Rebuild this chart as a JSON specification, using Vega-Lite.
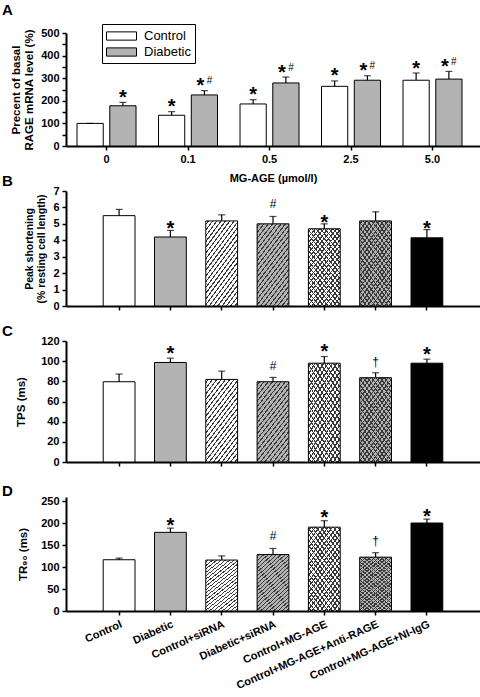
{
  "$schema": "https://vega.github.io/schema/vega-lite/v6.json",
  "padding": {"left": 2, "top": 2, "right": 0, "bottom": 0},
  "background": "white",
  "config": {
    "font": "Liberation Sans",
    "view": {"stroke": null},
    "axis": {
      "domainColor": "black", "domainWidth": 2, "tickColor": "black", "tickWidth": 1.5, "tickSize": 4,
      "labelFont": "Liberation Sans", "labelFontWeight": "bold", "labelFontSize": 11, "labelColor": "black",
      "titleFont": "Liberation Sans", "titleFontWeight": "bold", "titleFontSize": 11.5, "titleColor": "black",
      "grid": false, "labelPadding": 3, "labelOverlap": false
    },
    "title": {"font": "Liberation Sans", "fontSize": 15, "fontWeight": "bold", "color": "black", "anchor": "start", "frame": "group"}
  },
  "datasets": {
    "a": [
      {"dose": "0", "group": "Control", "value": 100, "hi": 100, "star": "", "hash": ""},
      {"dose": "0", "group": "Diabetic", "value": 178, "hi": 193, "star": "*", "hash": ""},
      {"dose": "0.1", "group": "Control", "value": 136, "hi": 152, "star": "*", "hash": ""},
      {"dose": "0.1", "group": "Diabetic", "value": 226, "hi": 245, "star": "*", "hash": "#"},
      {"dose": "0.5", "group": "Control", "value": 186, "hi": 205, "star": "*", "hash": ""},
      {"dose": "0.5", "group": "Diabetic", "value": 279, "hi": 305, "star": "*", "hash": "#"},
      {"dose": "2.5", "group": "Control", "value": 264, "hi": 288, "star": "*", "hash": ""},
      {"dose": "2.5", "group": "Diabetic", "value": 291, "hi": 311, "star": "*", "hash": "#"},
      {"dose": "5.0", "group": "Control", "value": 291, "hi": 323, "star": "*", "hash": ""},
      {"dose": "5.0", "group": "Diabetic", "value": 296, "hi": 330, "star": "*", "hash": "#"}
    ],
    "bcd": [
      {"cond": "Control", "ps": 5.5, "ps_hi": 5.88, "ps_note": "", "tps": 79.6, "tps_hi": 87.2, "tps_note": "", "tr": 116.9, "tr_hi": 120.6, "tr_note": ""},
      {"cond": "Diabetic", "ps": 4.2, "ps_hi": 4.6, "ps_note": "*", "tps": 98.7, "tps_hi": 103, "tps_note": "*", "tr": 179.4, "tr_hi": 189, "tr_note": "*"},
      {"cond": "Control+siRNA", "ps": 5.18, "ps_hi": 5.55, "ps_note": "", "tps": 81.9, "tps_hi": 90.1, "tps_note": "", "tr": 116.2, "tr_hi": 125.7, "tr_note": ""},
      {"cond": "Diabetic+siRNA", "ps": 5.0, "ps_hi": 5.45, "ps_note": "#", "tps": 79.6, "tps_hi": 83.9, "tps_note": "#", "tr": 128.7, "tr_hi": 142.6, "tr_note": "#"},
      {"cond": "Control+MG-AGE", "ps": 4.7, "ps_hi": 5.0, "ps_note": "*", "tps": 98, "tps_hi": 104.6, "tps_note": "*", "tr": 191.2, "tr_hi": 205.9, "tr_note": "*"},
      {"cond": "Control+MG-AGE+Anti-RAGE", "ps": 5.18, "ps_hi": 5.73, "ps_note": "", "tps": 83.6, "tps_hi": 88.5, "tps_note": "†", "tr": 122.8, "tr_hi": 133, "tr_note": "†"},
      {"cond": "Control+MG-AGE+NI-IgG", "ps": 4.15, "ps_hi": 4.65, "ps_note": "*", "tps": 98, "tps_hi": 102, "tps_note": "*", "tr": 200.7, "tr_hi": 209.6, "tr_note": "*"}
    ]
  },
  "resolve": {"scale": {"fill": "independent", "color": "independent"}, "legend": {"fill": "independent", "color": "independent"}},
  "bounds": "flush",
  "spacing": 45,
  "vconcat": [
    {
      "width": 414, "height": 113,
      "title": {"text": "A", "dx": -64, "offset": 6},
      "data": {"name": "a"},
      "resolve": {"axis": {"y": "independent"}},
      "encoding": {
        "x": {"field": "dose", "type": "nominal", "sort": ["0", "0.1", "0.5", "2.5", "5.0"],
              "scale": {"paddingInner": 0.276, "paddingOuter": 0.178, "align": 0.38},
              "axis": {"labelAngle": 0, "labelOverlap": false, "title": "MG-AGE (µmol/l)", "titleFontSize": 11, "titlePadding": 8, "labelFontSize": 11}},
        "xOffset": {"field": "group", "type": "nominal", "sort": ["Control", "Diabetic"], "scale": {"paddingInner": 0.2, "paddingOuter": 0}}
      },
      "layer": [
        {
          "mark": {"type": "bar", "stroke": "black", "strokeWidth": 1},
          "encoding": {
            "y": {"field": "value", "type": "quantitative", "scale": {"domain": [0, 500]},
                  "axis": {"values": [0, 50, 100, 150, 200, 250, 300, 350, 400, 450, 500], "labelOverlap": false,
                           "labelExpr": "datum.value % 100 === 0 ? datum.label : ''",
                           "title": ["Precent of basal", "RAGE mRNA level (%)"], "titlePadding": 6}},
            "fill": {"field": "group", "type": "nominal",
                     "scale": {"domain": ["Control", "Diabetic"], "range": ["#ffffff", "#b3b3b3"]},
                     "legend": {"orient": "none", "legendX": 36, "legendY": -9, "title": null,
                                "symbolType": "M-2,-0.55H2V0.55H-2Z", "symbolSize": 225, "symbolOffset": 7.5,
                                "symbolStrokeColor": "black", "symbolStrokeWidth": 1, "labelOffset": 14.5,
                                "labelFont": "Liberation Sans", "labelFontSize": 13, "labelColor": "black",
                                "padding": 4, "rowPadding": 1, "strokeColor": "black", "fillColor": "white"}}
          }
        },
        {
          "mark": {"type": "rule", "color": "black", "strokeWidth": 1.2},
          "encoding": {"y": {"field": "value", "type": "quantitative", "axis": null}, "y2": {"field": "hi"}}
        },
        {
          "mark": {"type": "tick", "color": "black", "thickness": 1.2, "size": 7},
          "encoding": {"y": {"field": "hi", "type": "quantitative", "axis": null}}
        },
        {
          "transform": [{"filter": "datum.star === '*' && datum.hash === ''"}],
          "mark": {"type": "text", "fontSize": 20, "fontWeight": "bold", "baseline": "alphabetic", "dy": 1.5, "color": "black"},
          "encoding": {"y": {"field": "hi", "type": "quantitative", "axis": null}, "text": {"field": "star"}}
        },
        {
          "transform": [{"filter": "datum.star === '*' && datum.hash === '#'"}],
          "mark": {"type": "text", "fontSize": 20, "fontWeight": "bold", "baseline": "alphabetic", "dy": 1.5, "dx": -4, "color": "black"},
          "encoding": {"y": {"field": "hi", "type": "quantitative", "axis": null}, "text": {"field": "star"}}
        },
        {
          "transform": [{"filter": "datum.hash === '#'"}],
          "mark": {"type": "text", "fontSize": 10, "baseline": "alphabetic", "dy": -6.5, "dx": 5, "color": "black"},
          "encoding": {"y": {"field": "hi", "type": "quantitative", "axis": null}, "text": {"field": "hash"}}
        }
      ]
    },
    {
      "bounds": "flush",
      "spacing": 35,
      "vconcat": [
        {
          "width": 414, "height": 115,
          "title": {"text": "B", "dx": -64, "offset": 0, "dy": 4},
          "data": {"name": "bcd"},
          "resolve": {"axis": {"y": "independent"}},
          "encoding": {
            "x": {"field": "cond", "type": "nominal", "sort": null,
                  "scale": {"paddingInner": 0.38, "paddingOuter": 0.725},
                  "axis": {"labels": false, "title": null}}
          },
          "layer": [
            {
              "mark": {"type": "bar"},
              "encoding": {
                "y": {"field": "ps", "type": "quantitative", "scale": {"domain": [0, 7]},
                      "axis": {"values": [0, 1, 2, 3, 4, 5, 6, 7], "labelOverlap": false, "title": ["Peak shortening", "(% resting cell length)"], "titleFontSize": 10.5, "titlePadding": 6}},
                "color": {"field": "cond", "type": "nominal", "sort": null,
                          "scale": {"domain": ["Control", "Diabetic", "Control+siRNA", "Diabetic+siRNA", "Control+MG-AGE", "Control+MG-AGE+Anti-RAGE", "Control+MG-AGE+NI-IgG"],
                                    "range": ["#ffffff", "#b3b3b3", "#ffffff", "#b3b3b3", "#ffffff", "#b3b3b3", "#000000"]},
                          "legend": null}
              }
            },
            {
              "transform": [{"filter": "indexof(['Control+siRNA','Diabetic+siRNA','Control+MG-AGE','Control+MG-AGE+Anti-RAGE'], datum.cond) >= 0"}],
              "mark": {"type": "bar", "fill": {"gradient": "linear", "x1": 0, "y1": 0, "x2": 0.6, "y2": 1.2, "stops": [{"offset":0,"color":"rgba(0,0,0,0)"},{"offset":0.02,"color":"rgba(0,0,0,0)"},{"offset":0.02,"color":"#3a3a3a"},{"offset":0.034,"color":"#3a3a3a"},{"offset":0.034,"color":"rgba(0,0,0,0)"},{"offset":0.065,"color":"rgba(0,0,0,0)"},{"offset":0.065,"color":"#3a3a3a"},{"offset":0.079,"color":"#3a3a3a"},{"offset":0.079,"color":"rgba(0,0,0,0)"},{"offset":0.11,"color":"rgba(0,0,0,0)"},{"offset":0.11,"color":"#3a3a3a"},{"offset":0.124,"color":"#3a3a3a"},{"offset":0.124,"color":"rgba(0,0,0,0)"},{"offset":0.155,"color":"rgba(0,0,0,0)"},{"offset":0.155,"color":"#3a3a3a"},{"offset":0.169,"color":"#3a3a3a"},{"offset":0.169,"color":"rgba(0,0,0,0)"},{"offset":0.2,"color":"rgba(0,0,0,0)"},{"offset":0.2,"color":"#3a3a3a"},{"offset":0.214,"color":"#3a3a3a"},{"offset":0.214,"color":"rgba(0,0,0,0)"},{"offset":0.245,"color":"rgba(0,0,0,0)"},{"offset":0.245,"color":"#3a3a3a"},{"offset":0.259,"color":"#3a3a3a"},{"offset":0.259,"color":"rgba(0,0,0,0)"},{"offset":0.29,"color":"rgba(0,0,0,0)"},{"offset":0.29,"color":"#3a3a3a"},{"offset":0.304,"color":"#3a3a3a"},{"offset":0.304,"color":"rgba(0,0,0,0)"},{"offset":0.335,"color":"rgba(0,0,0,0)"},{"offset":0.335,"color":"#3a3a3a"},{"offset":0.349,"color":"#3a3a3a"},{"offset":0.349,"color":"rgba(0,0,0,0)"},{"offset":0.38,"color":"rgba(0,0,0,0)"},{"offset":0.38,"color":"#3a3a3a"},{"offset":0.394,"color":"#3a3a3a"},{"offset":0.394,"color":"rgba(0,0,0,0)"},{"offset":0.425,"color":"rgba(0,0,0,0)"},{"offset":0.425,"color":"#3a3a3a"},{"offset":0.439,"color":"#3a3a3a"},{"offset":0.439,"color":"rgba(0,0,0,0)"},{"offset":0.47,"color":"rgba(0,0,0,0)"},{"offset":0.47,"color":"#3a3a3a"},{"offset":0.484,"color":"#3a3a3a"},{"offset":0.484,"color":"rgba(0,0,0,0)"},{"offset":0.515,"color":"rgba(0,0,0,0)"},{"offset":0.515,"color":"#3a3a3a"},{"offset":0.529,"color":"#3a3a3a"},{"offset":0.529,"color":"rgba(0,0,0,0)"},{"offset":0.56,"color":"rgba(0,0,0,0)"},{"offset":0.56,"color":"#3a3a3a"},{"offset":0.574,"color":"#3a3a3a"},{"offset":0.574,"color":"rgba(0,0,0,0)"},{"offset":0.605,"color":"rgba(0,0,0,0)"},{"offset":0.605,"color":"#3a3a3a"},{"offset":0.619,"color":"#3a3a3a"},{"offset":0.619,"color":"rgba(0,0,0,0)"},{"offset":0.65,"color":"rgba(0,0,0,0)"},{"offset":0.65,"color":"#3a3a3a"},{"offset":0.664,"color":"#3a3a3a"},{"offset":0.664,"color":"rgba(0,0,0,0)"},{"offset":0.695,"color":"rgba(0,0,0,0)"},{"offset":0.695,"color":"#3a3a3a"},{"offset":0.709,"color":"#3a3a3a"},{"offset":0.709,"color":"rgba(0,0,0,0)"},{"offset":0.74,"color":"rgba(0,0,0,0)"},{"offset":0.74,"color":"#3a3a3a"},{"offset":0.754,"color":"#3a3a3a"},{"offset":0.754,"color":"rgba(0,0,0,0)"},{"offset":0.785,"color":"rgba(0,0,0,0)"},{"offset":0.785,"color":"#3a3a3a"},{"offset":0.799,"color":"#3a3a3a"},{"offset":0.799,"color":"rgba(0,0,0,0)"},{"offset":0.83,"color":"rgba(0,0,0,0)"},{"offset":0.83,"color":"#3a3a3a"},{"offset":0.844,"color":"#3a3a3a"},{"offset":0.844,"color":"rgba(0,0,0,0)"},{"offset":0.875,"color":"rgba(0,0,0,0)"},{"offset":0.875,"color":"#3a3a3a"},{"offset":0.889,"color":"#3a3a3a"},{"offset":0.889,"color":"rgba(0,0,0,0)"},{"offset":0.92,"color":"rgba(0,0,0,0)"},{"offset":0.92,"color":"#3a3a3a"},{"offset":0.934,"color":"#3a3a3a"},{"offset":0.934,"color":"rgba(0,0,0,0)"},{"offset":0.965,"color":"rgba(0,0,0,0)"},{"offset":0.965,"color":"#3a3a3a"},{"offset":0.979,"color":"#3a3a3a"},{"offset":0.979,"color":"rgba(0,0,0,0)"},{"offset":1,"color":"rgba(0,0,0,0)"}]}},
              "encoding": {"y": {"field": "ps", "type": "quantitative", "axis": null}}
            },
            {
              "transform": [{"filter": "indexof(['Control+MG-AGE','Control+MG-AGE+Anti-RAGE'], datum.cond) >= 0"}],
              "mark": {"type": "bar", "fill": {"gradient": "linear", "x1": 0, "y1": 1, "x2": 0.6, "y2": -0.2, "stops": [{"offset":0,"color":"rgba(0,0,0,0)"},{"offset":0.02,"color":"rgba(0,0,0,0)"},{"offset":0.02,"color":"#3a3a3a"},{"offset":0.034,"color":"#3a3a3a"},{"offset":0.034,"color":"rgba(0,0,0,0)"},{"offset":0.065,"color":"rgba(0,0,0,0)"},{"offset":0.065,"color":"#3a3a3a"},{"offset":0.079,"color":"#3a3a3a"},{"offset":0.079,"color":"rgba(0,0,0,0)"},{"offset":0.11,"color":"rgba(0,0,0,0)"},{"offset":0.11,"color":"#3a3a3a"},{"offset":0.124,"color":"#3a3a3a"},{"offset":0.124,"color":"rgba(0,0,0,0)"},{"offset":0.155,"color":"rgba(0,0,0,0)"},{"offset":0.155,"color":"#3a3a3a"},{"offset":0.169,"color":"#3a3a3a"},{"offset":0.169,"color":"rgba(0,0,0,0)"},{"offset":0.2,"color":"rgba(0,0,0,0)"},{"offset":0.2,"color":"#3a3a3a"},{"offset":0.214,"color":"#3a3a3a"},{"offset":0.214,"color":"rgba(0,0,0,0)"},{"offset":0.245,"color":"rgba(0,0,0,0)"},{"offset":0.245,"color":"#3a3a3a"},{"offset":0.259,"color":"#3a3a3a"},{"offset":0.259,"color":"rgba(0,0,0,0)"},{"offset":0.29,"color":"rgba(0,0,0,0)"},{"offset":0.29,"color":"#3a3a3a"},{"offset":0.304,"color":"#3a3a3a"},{"offset":0.304,"color":"rgba(0,0,0,0)"},{"offset":0.335,"color":"rgba(0,0,0,0)"},{"offset":0.335,"color":"#3a3a3a"},{"offset":0.349,"color":"#3a3a3a"},{"offset":0.349,"color":"rgba(0,0,0,0)"},{"offset":0.38,"color":"rgba(0,0,0,0)"},{"offset":0.38,"color":"#3a3a3a"},{"offset":0.394,"color":"#3a3a3a"},{"offset":0.394,"color":"rgba(0,0,0,0)"},{"offset":0.425,"color":"rgba(0,0,0,0)"},{"offset":0.425,"color":"#3a3a3a"},{"offset":0.439,"color":"#3a3a3a"},{"offset":0.439,"color":"rgba(0,0,0,0)"},{"offset":0.47,"color":"rgba(0,0,0,0)"},{"offset":0.47,"color":"#3a3a3a"},{"offset":0.484,"color":"#3a3a3a"},{"offset":0.484,"color":"rgba(0,0,0,0)"},{"offset":0.515,"color":"rgba(0,0,0,0)"},{"offset":0.515,"color":"#3a3a3a"},{"offset":0.529,"color":"#3a3a3a"},{"offset":0.529,"color":"rgba(0,0,0,0)"},{"offset":0.56,"color":"rgba(0,0,0,0)"},{"offset":0.56,"color":"#3a3a3a"},{"offset":0.574,"color":"#3a3a3a"},{"offset":0.574,"color":"rgba(0,0,0,0)"},{"offset":0.605,"color":"rgba(0,0,0,0)"},{"offset":0.605,"color":"#3a3a3a"},{"offset":0.619,"color":"#3a3a3a"},{"offset":0.619,"color":"rgba(0,0,0,0)"},{"offset":0.65,"color":"rgba(0,0,0,0)"},{"offset":0.65,"color":"#3a3a3a"},{"offset":0.664,"color":"#3a3a3a"},{"offset":0.664,"color":"rgba(0,0,0,0)"},{"offset":0.695,"color":"rgba(0,0,0,0)"},{"offset":0.695,"color":"#3a3a3a"},{"offset":0.709,"color":"#3a3a3a"},{"offset":0.709,"color":"rgba(0,0,0,0)"},{"offset":0.74,"color":"rgba(0,0,0,0)"},{"offset":0.74,"color":"#3a3a3a"},{"offset":0.754,"color":"#3a3a3a"},{"offset":0.754,"color":"rgba(0,0,0,0)"},{"offset":0.785,"color":"rgba(0,0,0,0)"},{"offset":0.785,"color":"#3a3a3a"},{"offset":0.799,"color":"#3a3a3a"},{"offset":0.799,"color":"rgba(0,0,0,0)"},{"offset":0.83,"color":"rgba(0,0,0,0)"},{"offset":0.83,"color":"#3a3a3a"},{"offset":0.844,"color":"#3a3a3a"},{"offset":0.844,"color":"rgba(0,0,0,0)"},{"offset":0.875,"color":"rgba(0,0,0,0)"},{"offset":0.875,"color":"#3a3a3a"},{"offset":0.889,"color":"#3a3a3a"},{"offset":0.889,"color":"rgba(0,0,0,0)"},{"offset":0.92,"color":"rgba(0,0,0,0)"},{"offset":0.92,"color":"#3a3a3a"},{"offset":0.934,"color":"#3a3a3a"},{"offset":0.934,"color":"rgba(0,0,0,0)"},{"offset":0.965,"color":"rgba(0,0,0,0)"},{"offset":0.965,"color":"#3a3a3a"},{"offset":0.979,"color":"#3a3a3a"},{"offset":0.979,"color":"rgba(0,0,0,0)"},{"offset":1,"color":"rgba(0,0,0,0)"}]}},
              "encoding": {"y": {"field": "ps", "type": "quantitative", "axis": null}}
            },
            {
              "mark": {"type": "bar", "fillOpacity": 0, "stroke": "black", "strokeWidth": 1},
              "encoding": {"y": {"field": "ps", "type": "quantitative", "axis": null}}
            },
            {
              "mark": {"type": "rule", "color": "black", "strokeWidth": 1.2},
              "encoding": {"y": {"field": "ps", "type": "quantitative", "axis": null}, "y2": {"field": "ps_hi"}}
            },
            {
              "mark": {"type": "tick", "color": "black", "thickness": 1.2, "size": 7},
              "encoding": {"y": {"field": "ps_hi", "type": "quantitative", "axis": null}}
            },
            {
              "transform": [{"filter": "datum.ps_note === '*'"}],
              "mark": {"type": "text", "fontSize": 20, "fontWeight": "bold", "baseline": "alphabetic", "dy": 5, "color": "black"},
              "encoding": {"y": {"field": "ps_hi", "type": "quantitative", "axis": null}, "text": {"field": "ps_note"}}
            },
            {
              "transform": [{"filter": "datum.ps_note !== '*' && datum.ps_note !== ''"}],
              "mark": {"type": "text", "fontSize": 12, "baseline": "alphabetic", "dy": -8, "color": "black"},
              "encoding": {"y": {"field": "ps_hi", "type": "quantitative", "axis": null}, "text": {"field": "ps_note"}}
            }
          ]
        },
        {
          "width": 414, "height": 121,
          "title": {"text": "C", "dx": -64, "offset": 0, "dy": 4},
          "data": {"name": "bcd"},
          "resolve": {"axis": {"y": "independent"}},
          "encoding": {
            "x": {"field": "cond", "type": "nominal", "sort": null,
                  "scale": {"paddingInner": 0.38, "paddingOuter": 0.725},
                  "axis": {"labels": false, "title": null}}
          },
          "layer": [
            {
              "mark": {"type": "bar"},
              "encoding": {
                "y": {"field": "tps", "type": "quantitative", "scale": {"domain": [0, 120]},
                      "axis": {"values": [0, 20, 40, 60, 80, 100, 120], "labelOverlap": false, "title": "TPS (ms)", "titlePadding": 14}},
                "color": {"field": "cond", "type": "nominal", "sort": null,
                          "scale": {"domain": ["Control", "Diabetic", "Control+siRNA", "Diabetic+siRNA", "Control+MG-AGE", "Control+MG-AGE+Anti-RAGE", "Control+MG-AGE+NI-IgG"],
                                    "range": ["#ffffff", "#b3b3b3", "#ffffff", "#b3b3b3", "#ffffff", "#b3b3b3", "#000000"]},
                          "legend": null}
              }
            },
            {
              "transform": [{"filter": "indexof(['Control+siRNA','Diabetic+siRNA','Control+MG-AGE','Control+MG-AGE+Anti-RAGE'], datum.cond) >= 0"}],
              "mark": {"type": "bar", "fill": {"gradient": "linear", "x1": 0, "y1": 0, "x2": 0.6, "y2": 1.2, "stops": [{"offset":0,"color":"rgba(0,0,0,0)"},{"offset":0.02,"color":"rgba(0,0,0,0)"},{"offset":0.02,"color":"#3a3a3a"},{"offset":0.034,"color":"#3a3a3a"},{"offset":0.034,"color":"rgba(0,0,0,0)"},{"offset":0.065,"color":"rgba(0,0,0,0)"},{"offset":0.065,"color":"#3a3a3a"},{"offset":0.079,"color":"#3a3a3a"},{"offset":0.079,"color":"rgba(0,0,0,0)"},{"offset":0.11,"color":"rgba(0,0,0,0)"},{"offset":0.11,"color":"#3a3a3a"},{"offset":0.124,"color":"#3a3a3a"},{"offset":0.124,"color":"rgba(0,0,0,0)"},{"offset":0.155,"color":"rgba(0,0,0,0)"},{"offset":0.155,"color":"#3a3a3a"},{"offset":0.169,"color":"#3a3a3a"},{"offset":0.169,"color":"rgba(0,0,0,0)"},{"offset":0.2,"color":"rgba(0,0,0,0)"},{"offset":0.2,"color":"#3a3a3a"},{"offset":0.214,"color":"#3a3a3a"},{"offset":0.214,"color":"rgba(0,0,0,0)"},{"offset":0.245,"color":"rgba(0,0,0,0)"},{"offset":0.245,"color":"#3a3a3a"},{"offset":0.259,"color":"#3a3a3a"},{"offset":0.259,"color":"rgba(0,0,0,0)"},{"offset":0.29,"color":"rgba(0,0,0,0)"},{"offset":0.29,"color":"#3a3a3a"},{"offset":0.304,"color":"#3a3a3a"},{"offset":0.304,"color":"rgba(0,0,0,0)"},{"offset":0.335,"color":"rgba(0,0,0,0)"},{"offset":0.335,"color":"#3a3a3a"},{"offset":0.349,"color":"#3a3a3a"},{"offset":0.349,"color":"rgba(0,0,0,0)"},{"offset":0.38,"color":"rgba(0,0,0,0)"},{"offset":0.38,"color":"#3a3a3a"},{"offset":0.394,"color":"#3a3a3a"},{"offset":0.394,"color":"rgba(0,0,0,0)"},{"offset":0.425,"color":"rgba(0,0,0,0)"},{"offset":0.425,"color":"#3a3a3a"},{"offset":0.439,"color":"#3a3a3a"},{"offset":0.439,"color":"rgba(0,0,0,0)"},{"offset":0.47,"color":"rgba(0,0,0,0)"},{"offset":0.47,"color":"#3a3a3a"},{"offset":0.484,"color":"#3a3a3a"},{"offset":0.484,"color":"rgba(0,0,0,0)"},{"offset":0.515,"color":"rgba(0,0,0,0)"},{"offset":0.515,"color":"#3a3a3a"},{"offset":0.529,"color":"#3a3a3a"},{"offset":0.529,"color":"rgba(0,0,0,0)"},{"offset":0.56,"color":"rgba(0,0,0,0)"},{"offset":0.56,"color":"#3a3a3a"},{"offset":0.574,"color":"#3a3a3a"},{"offset":0.574,"color":"rgba(0,0,0,0)"},{"offset":0.605,"color":"rgba(0,0,0,0)"},{"offset":0.605,"color":"#3a3a3a"},{"offset":0.619,"color":"#3a3a3a"},{"offset":0.619,"color":"rgba(0,0,0,0)"},{"offset":0.65,"color":"rgba(0,0,0,0)"},{"offset":0.65,"color":"#3a3a3a"},{"offset":0.664,"color":"#3a3a3a"},{"offset":0.664,"color":"rgba(0,0,0,0)"},{"offset":0.695,"color":"rgba(0,0,0,0)"},{"offset":0.695,"color":"#3a3a3a"},{"offset":0.709,"color":"#3a3a3a"},{"offset":0.709,"color":"rgba(0,0,0,0)"},{"offset":0.74,"color":"rgba(0,0,0,0)"},{"offset":0.74,"color":"#3a3a3a"},{"offset":0.754,"color":"#3a3a3a"},{"offset":0.754,"color":"rgba(0,0,0,0)"},{"offset":0.785,"color":"rgba(0,0,0,0)"},{"offset":0.785,"color":"#3a3a3a"},{"offset":0.799,"color":"#3a3a3a"},{"offset":0.799,"color":"rgba(0,0,0,0)"},{"offset":0.83,"color":"rgba(0,0,0,0)"},{"offset":0.83,"color":"#3a3a3a"},{"offset":0.844,"color":"#3a3a3a"},{"offset":0.844,"color":"rgba(0,0,0,0)"},{"offset":0.875,"color":"rgba(0,0,0,0)"},{"offset":0.875,"color":"#3a3a3a"},{"offset":0.889,"color":"#3a3a3a"},{"offset":0.889,"color":"rgba(0,0,0,0)"},{"offset":0.92,"color":"rgba(0,0,0,0)"},{"offset":0.92,"color":"#3a3a3a"},{"offset":0.934,"color":"#3a3a3a"},{"offset":0.934,"color":"rgba(0,0,0,0)"},{"offset":0.965,"color":"rgba(0,0,0,0)"},{"offset":0.965,"color":"#3a3a3a"},{"offset":0.979,"color":"#3a3a3a"},{"offset":0.979,"color":"rgba(0,0,0,0)"},{"offset":1,"color":"rgba(0,0,0,0)"}]}},
              "encoding": {"y": {"field": "tps", "type": "quantitative", "axis": null}}
            },
            {
              "transform": [{"filter": "indexof(['Control+MG-AGE','Control+MG-AGE+Anti-RAGE'], datum.cond) >= 0"}],
              "mark": {"type": "bar", "fill": {"gradient": "linear", "x1": 0, "y1": 1, "x2": 0.6, "y2": -0.2, "stops": [{"offset":0,"color":"rgba(0,0,0,0)"},{"offset":0.02,"color":"rgba(0,0,0,0)"},{"offset":0.02,"color":"#3a3a3a"},{"offset":0.034,"color":"#3a3a3a"},{"offset":0.034,"color":"rgba(0,0,0,0)"},{"offset":0.065,"color":"rgba(0,0,0,0)"},{"offset":0.065,"color":"#3a3a3a"},{"offset":0.079,"color":"#3a3a3a"},{"offset":0.079,"color":"rgba(0,0,0,0)"},{"offset":0.11,"color":"rgba(0,0,0,0)"},{"offset":0.11,"color":"#3a3a3a"},{"offset":0.124,"color":"#3a3a3a"},{"offset":0.124,"color":"rgba(0,0,0,0)"},{"offset":0.155,"color":"rgba(0,0,0,0)"},{"offset":0.155,"color":"#3a3a3a"},{"offset":0.169,"color":"#3a3a3a"},{"offset":0.169,"color":"rgba(0,0,0,0)"},{"offset":0.2,"color":"rgba(0,0,0,0)"},{"offset":0.2,"color":"#3a3a3a"},{"offset":0.214,"color":"#3a3a3a"},{"offset":0.214,"color":"rgba(0,0,0,0)"},{"offset":0.245,"color":"rgba(0,0,0,0)"},{"offset":0.245,"color":"#3a3a3a"},{"offset":0.259,"color":"#3a3a3a"},{"offset":0.259,"color":"rgba(0,0,0,0)"},{"offset":0.29,"color":"rgba(0,0,0,0)"},{"offset":0.29,"color":"#3a3a3a"},{"offset":0.304,"color":"#3a3a3a"},{"offset":0.304,"color":"rgba(0,0,0,0)"},{"offset":0.335,"color":"rgba(0,0,0,0)"},{"offset":0.335,"color":"#3a3a3a"},{"offset":0.349,"color":"#3a3a3a"},{"offset":0.349,"color":"rgba(0,0,0,0)"},{"offset":0.38,"color":"rgba(0,0,0,0)"},{"offset":0.38,"color":"#3a3a3a"},{"offset":0.394,"color":"#3a3a3a"},{"offset":0.394,"color":"rgba(0,0,0,0)"},{"offset":0.425,"color":"rgba(0,0,0,0)"},{"offset":0.425,"color":"#3a3a3a"},{"offset":0.439,"color":"#3a3a3a"},{"offset":0.439,"color":"rgba(0,0,0,0)"},{"offset":0.47,"color":"rgba(0,0,0,0)"},{"offset":0.47,"color":"#3a3a3a"},{"offset":0.484,"color":"#3a3a3a"},{"offset":0.484,"color":"rgba(0,0,0,0)"},{"offset":0.515,"color":"rgba(0,0,0,0)"},{"offset":0.515,"color":"#3a3a3a"},{"offset":0.529,"color":"#3a3a3a"},{"offset":0.529,"color":"rgba(0,0,0,0)"},{"offset":0.56,"color":"rgba(0,0,0,0)"},{"offset":0.56,"color":"#3a3a3a"},{"offset":0.574,"color":"#3a3a3a"},{"offset":0.574,"color":"rgba(0,0,0,0)"},{"offset":0.605,"color":"rgba(0,0,0,0)"},{"offset":0.605,"color":"#3a3a3a"},{"offset":0.619,"color":"#3a3a3a"},{"offset":0.619,"color":"rgba(0,0,0,0)"},{"offset":0.65,"color":"rgba(0,0,0,0)"},{"offset":0.65,"color":"#3a3a3a"},{"offset":0.664,"color":"#3a3a3a"},{"offset":0.664,"color":"rgba(0,0,0,0)"},{"offset":0.695,"color":"rgba(0,0,0,0)"},{"offset":0.695,"color":"#3a3a3a"},{"offset":0.709,"color":"#3a3a3a"},{"offset":0.709,"color":"rgba(0,0,0,0)"},{"offset":0.74,"color":"rgba(0,0,0,0)"},{"offset":0.74,"color":"#3a3a3a"},{"offset":0.754,"color":"#3a3a3a"},{"offset":0.754,"color":"rgba(0,0,0,0)"},{"offset":0.785,"color":"rgba(0,0,0,0)"},{"offset":0.785,"color":"#3a3a3a"},{"offset":0.799,"color":"#3a3a3a"},{"offset":0.799,"color":"rgba(0,0,0,0)"},{"offset":0.83,"color":"rgba(0,0,0,0)"},{"offset":0.83,"color":"#3a3a3a"},{"offset":0.844,"color":"#3a3a3a"},{"offset":0.844,"color":"rgba(0,0,0,0)"},{"offset":0.875,"color":"rgba(0,0,0,0)"},{"offset":0.875,"color":"#3a3a3a"},{"offset":0.889,"color":"#3a3a3a"},{"offset":0.889,"color":"rgba(0,0,0,0)"},{"offset":0.92,"color":"rgba(0,0,0,0)"},{"offset":0.92,"color":"#3a3a3a"},{"offset":0.934,"color":"#3a3a3a"},{"offset":0.934,"color":"rgba(0,0,0,0)"},{"offset":0.965,"color":"rgba(0,0,0,0)"},{"offset":0.965,"color":"#3a3a3a"},{"offset":0.979,"color":"#3a3a3a"},{"offset":0.979,"color":"rgba(0,0,0,0)"},{"offset":1,"color":"rgba(0,0,0,0)"}]}},
              "encoding": {"y": {"field": "tps", "type": "quantitative", "axis": null}}
            },
            {
              "mark": {"type": "bar", "fillOpacity": 0, "stroke": "black", "strokeWidth": 1},
              "encoding": {"y": {"field": "tps", "type": "quantitative", "axis": null}}
            },
            {
              "mark": {"type": "rule", "color": "black", "strokeWidth": 1.2},
              "encoding": {"y": {"field": "tps", "type": "quantitative", "axis": null}, "y2": {"field": "tps_hi"}}
            },
            {
              "mark": {"type": "tick", "color": "black", "thickness": 1.2, "size": 7},
              "encoding": {"y": {"field": "tps_hi", "type": "quantitative", "axis": null}}
            },
            {
              "transform": [{"filter": "datum.tps_note === '*'"}],
              "mark": {"type": "text", "fontSize": 20, "fontWeight": "bold", "baseline": "alphabetic", "dy": 1.5, "color": "black"},
              "encoding": {"y": {"field": "tps_hi", "type": "quantitative", "axis": null}, "text": {"field": "tps_note"}}
            },
            {
              "transform": [{"filter": "datum.tps_note !== '*' && datum.tps_note !== ''"}],
              "mark": {"type": "text", "fontSize": 12, "baseline": "alphabetic", "dy": -7, "color": "black"},
              "encoding": {"y": {"field": "tps_hi", "type": "quantitative", "axis": null}, "text": {"field": "tps_note"}}
            }
          ]
        },
        {
          "width": 414, "height": 114,
          "title": {"text": "D", "dx": -64, "offset": 0, "dy": 4},
          "data": {"name": "bcd"},
          "resolve": {"axis": {"y": "independent"}},
          "encoding": {
            "x": {"field": "cond", "type": "nominal", "sort": null,
                  "scale": {"paddingInner": 0.38, "paddingOuter": 0.725},
                  "axis": {"labelAngle": -24, "labelAlign": "right", "labelBaseline": "top", "labelFontSize": 11, "labelPadding": 3, "labelOverlap": false, "title": null}}
          },
          "layer": [
            {
              "mark": {"type": "bar"},
              "encoding": {
                "y": {"field": "tr", "type": "quantitative", "scale": {"domain": [0, 250]},
                      "axis": {"values": [0, 50, 100, 150, 200, 250], "labelOverlap": false, "title": "TR₉₀ (ms)", "titlePadding": 12}},
                "color": {"field": "cond", "type": "nominal", "sort": null,
                          "scale": {"domain": ["Control", "Diabetic", "Control+siRNA", "Diabetic+siRNA", "Control+MG-AGE", "Control+MG-AGE+Anti-RAGE", "Control+MG-AGE+NI-IgG"],
                                    "range": ["#ffffff", "#b3b3b3", "#ffffff", "#b3b3b3", "#ffffff", "#b3b3b3", "#000000"]},
                          "legend": null}
              }
            },
            {
              "transform": [{"filter": "indexof(['Control+siRNA','Diabetic+siRNA','Control+MG-AGE','Control+MG-AGE+Anti-RAGE'], datum.cond) >= 0"}],
              "mark": {"type": "bar", "fill": {"gradient": "linear", "x1": 0, "y1": 0, "x2": 0.6, "y2": 1.2, "stops": [{"offset":0,"color":"rgba(0,0,0,0)"},{"offset":0.02,"color":"rgba(0,0,0,0)"},{"offset":0.02,"color":"#3a3a3a"},{"offset":0.034,"color":"#3a3a3a"},{"offset":0.034,"color":"rgba(0,0,0,0)"},{"offset":0.065,"color":"rgba(0,0,0,0)"},{"offset":0.065,"color":"#3a3a3a"},{"offset":0.079,"color":"#3a3a3a"},{"offset":0.079,"color":"rgba(0,0,0,0)"},{"offset":0.11,"color":"rgba(0,0,0,0)"},{"offset":0.11,"color":"#3a3a3a"},{"offset":0.124,"color":"#3a3a3a"},{"offset":0.124,"color":"rgba(0,0,0,0)"},{"offset":0.155,"color":"rgba(0,0,0,0)"},{"offset":0.155,"color":"#3a3a3a"},{"offset":0.169,"color":"#3a3a3a"},{"offset":0.169,"color":"rgba(0,0,0,0)"},{"offset":0.2,"color":"rgba(0,0,0,0)"},{"offset":0.2,"color":"#3a3a3a"},{"offset":0.214,"color":"#3a3a3a"},{"offset":0.214,"color":"rgba(0,0,0,0)"},{"offset":0.245,"color":"rgba(0,0,0,0)"},{"offset":0.245,"color":"#3a3a3a"},{"offset":0.259,"color":"#3a3a3a"},{"offset":0.259,"color":"rgba(0,0,0,0)"},{"offset":0.29,"color":"rgba(0,0,0,0)"},{"offset":0.29,"color":"#3a3a3a"},{"offset":0.304,"color":"#3a3a3a"},{"offset":0.304,"color":"rgba(0,0,0,0)"},{"offset":0.335,"color":"rgba(0,0,0,0)"},{"offset":0.335,"color":"#3a3a3a"},{"offset":0.349,"color":"#3a3a3a"},{"offset":0.349,"color":"rgba(0,0,0,0)"},{"offset":0.38,"color":"rgba(0,0,0,0)"},{"offset":0.38,"color":"#3a3a3a"},{"offset":0.394,"color":"#3a3a3a"},{"offset":0.394,"color":"rgba(0,0,0,0)"},{"offset":0.425,"color":"rgba(0,0,0,0)"},{"offset":0.425,"color":"#3a3a3a"},{"offset":0.439,"color":"#3a3a3a"},{"offset":0.439,"color":"rgba(0,0,0,0)"},{"offset":0.47,"color":"rgba(0,0,0,0)"},{"offset":0.47,"color":"#3a3a3a"},{"offset":0.484,"color":"#3a3a3a"},{"offset":0.484,"color":"rgba(0,0,0,0)"},{"offset":0.515,"color":"rgba(0,0,0,0)"},{"offset":0.515,"color":"#3a3a3a"},{"offset":0.529,"color":"#3a3a3a"},{"offset":0.529,"color":"rgba(0,0,0,0)"},{"offset":0.56,"color":"rgba(0,0,0,0)"},{"offset":0.56,"color":"#3a3a3a"},{"offset":0.574,"color":"#3a3a3a"},{"offset":0.574,"color":"rgba(0,0,0,0)"},{"offset":0.605,"color":"rgba(0,0,0,0)"},{"offset":0.605,"color":"#3a3a3a"},{"offset":0.619,"color":"#3a3a3a"},{"offset":0.619,"color":"rgba(0,0,0,0)"},{"offset":0.65,"color":"rgba(0,0,0,0)"},{"offset":0.65,"color":"#3a3a3a"},{"offset":0.664,"color":"#3a3a3a"},{"offset":0.664,"color":"rgba(0,0,0,0)"},{"offset":0.695,"color":"rgba(0,0,0,0)"},{"offset":0.695,"color":"#3a3a3a"},{"offset":0.709,"color":"#3a3a3a"},{"offset":0.709,"color":"rgba(0,0,0,0)"},{"offset":0.74,"color":"rgba(0,0,0,0)"},{"offset":0.74,"color":"#3a3a3a"},{"offset":0.754,"color":"#3a3a3a"},{"offset":0.754,"color":"rgba(0,0,0,0)"},{"offset":0.785,"color":"rgba(0,0,0,0)"},{"offset":0.785,"color":"#3a3a3a"},{"offset":0.799,"color":"#3a3a3a"},{"offset":0.799,"color":"rgba(0,0,0,0)"},{"offset":0.83,"color":"rgba(0,0,0,0)"},{"offset":0.83,"color":"#3a3a3a"},{"offset":0.844,"color":"#3a3a3a"},{"offset":0.844,"color":"rgba(0,0,0,0)"},{"offset":0.875,"color":"rgba(0,0,0,0)"},{"offset":0.875,"color":"#3a3a3a"},{"offset":0.889,"color":"#3a3a3a"},{"offset":0.889,"color":"rgba(0,0,0,0)"},{"offset":0.92,"color":"rgba(0,0,0,0)"},{"offset":0.92,"color":"#3a3a3a"},{"offset":0.934,"color":"#3a3a3a"},{"offset":0.934,"color":"rgba(0,0,0,0)"},{"offset":0.965,"color":"rgba(0,0,0,0)"},{"offset":0.965,"color":"#3a3a3a"},{"offset":0.979,"color":"#3a3a3a"},{"offset":0.979,"color":"rgba(0,0,0,0)"},{"offset":1,"color":"rgba(0,0,0,0)"}]}},
              "encoding": {"y": {"field": "tr", "type": "quantitative", "axis": null}}
            },
            {
              "transform": [{"filter": "indexof(['Control+MG-AGE','Control+MG-AGE+Anti-RAGE'], datum.cond) >= 0"}],
              "mark": {"type": "bar", "fill": {"gradient": "linear", "x1": 0, "y1": 1, "x2": 0.6, "y2": -0.2, "stops": [{"offset":0,"color":"rgba(0,0,0,0)"},{"offset":0.02,"color":"rgba(0,0,0,0)"},{"offset":0.02,"color":"#3a3a3a"},{"offset":0.034,"color":"#3a3a3a"},{"offset":0.034,"color":"rgba(0,0,0,0)"},{"offset":0.065,"color":"rgba(0,0,0,0)"},{"offset":0.065,"color":"#3a3a3a"},{"offset":0.079,"color":"#3a3a3a"},{"offset":0.079,"color":"rgba(0,0,0,0)"},{"offset":0.11,"color":"rgba(0,0,0,0)"},{"offset":0.11,"color":"#3a3a3a"},{"offset":0.124,"color":"#3a3a3a"},{"offset":0.124,"color":"rgba(0,0,0,0)"},{"offset":0.155,"color":"rgba(0,0,0,0)"},{"offset":0.155,"color":"#3a3a3a"},{"offset":0.169,"color":"#3a3a3a"},{"offset":0.169,"color":"rgba(0,0,0,0)"},{"offset":0.2,"color":"rgba(0,0,0,0)"},{"offset":0.2,"color":"#3a3a3a"},{"offset":0.214,"color":"#3a3a3a"},{"offset":0.214,"color":"rgba(0,0,0,0)"},{"offset":0.245,"color":"rgba(0,0,0,0)"},{"offset":0.245,"color":"#3a3a3a"},{"offset":0.259,"color":"#3a3a3a"},{"offset":0.259,"color":"rgba(0,0,0,0)"},{"offset":0.29,"color":"rgba(0,0,0,0)"},{"offset":0.29,"color":"#3a3a3a"},{"offset":0.304,"color":"#3a3a3a"},{"offset":0.304,"color":"rgba(0,0,0,0)"},{"offset":0.335,"color":"rgba(0,0,0,0)"},{"offset":0.335,"color":"#3a3a3a"},{"offset":0.349,"color":"#3a3a3a"},{"offset":0.349,"color":"rgba(0,0,0,0)"},{"offset":0.38,"color":"rgba(0,0,0,0)"},{"offset":0.38,"color":"#3a3a3a"},{"offset":0.394,"color":"#3a3a3a"},{"offset":0.394,"color":"rgba(0,0,0,0)"},{"offset":0.425,"color":"rgba(0,0,0,0)"},{"offset":0.425,"color":"#3a3a3a"},{"offset":0.439,"color":"#3a3a3a"},{"offset":0.439,"color":"rgba(0,0,0,0)"},{"offset":0.47,"color":"rgba(0,0,0,0)"},{"offset":0.47,"color":"#3a3a3a"},{"offset":0.484,"color":"#3a3a3a"},{"offset":0.484,"color":"rgba(0,0,0,0)"},{"offset":0.515,"color":"rgba(0,0,0,0)"},{"offset":0.515,"color":"#3a3a3a"},{"offset":0.529,"color":"#3a3a3a"},{"offset":0.529,"color":"rgba(0,0,0,0)"},{"offset":0.56,"color":"rgba(0,0,0,0)"},{"offset":0.56,"color":"#3a3a3a"},{"offset":0.574,"color":"#3a3a3a"},{"offset":0.574,"color":"rgba(0,0,0,0)"},{"offset":0.605,"color":"rgba(0,0,0,0)"},{"offset":0.605,"color":"#3a3a3a"},{"offset":0.619,"color":"#3a3a3a"},{"offset":0.619,"color":"rgba(0,0,0,0)"},{"offset":0.65,"color":"rgba(0,0,0,0)"},{"offset":0.65,"color":"#3a3a3a"},{"offset":0.664,"color":"#3a3a3a"},{"offset":0.664,"color":"rgba(0,0,0,0)"},{"offset":0.695,"color":"rgba(0,0,0,0)"},{"offset":0.695,"color":"#3a3a3a"},{"offset":0.709,"color":"#3a3a3a"},{"offset":0.709,"color":"rgba(0,0,0,0)"},{"offset":0.74,"color":"rgba(0,0,0,0)"},{"offset":0.74,"color":"#3a3a3a"},{"offset":0.754,"color":"#3a3a3a"},{"offset":0.754,"color":"rgba(0,0,0,0)"},{"offset":0.785,"color":"rgba(0,0,0,0)"},{"offset":0.785,"color":"#3a3a3a"},{"offset":0.799,"color":"#3a3a3a"},{"offset":0.799,"color":"rgba(0,0,0,0)"},{"offset":0.83,"color":"rgba(0,0,0,0)"},{"offset":0.83,"color":"#3a3a3a"},{"offset":0.844,"color":"#3a3a3a"},{"offset":0.844,"color":"rgba(0,0,0,0)"},{"offset":0.875,"color":"rgba(0,0,0,0)"},{"offset":0.875,"color":"#3a3a3a"},{"offset":0.889,"color":"#3a3a3a"},{"offset":0.889,"color":"rgba(0,0,0,0)"},{"offset":0.92,"color":"rgba(0,0,0,0)"},{"offset":0.92,"color":"#3a3a3a"},{"offset":0.934,"color":"#3a3a3a"},{"offset":0.934,"color":"rgba(0,0,0,0)"},{"offset":0.965,"color":"rgba(0,0,0,0)"},{"offset":0.965,"color":"#3a3a3a"},{"offset":0.979,"color":"#3a3a3a"},{"offset":0.979,"color":"rgba(0,0,0,0)"},{"offset":1,"color":"rgba(0,0,0,0)"}]}},
              "encoding": {"y": {"field": "tr", "type": "quantitative", "axis": null}}
            },
            {
              "mark": {"type": "bar", "fillOpacity": 0, "stroke": "black", "strokeWidth": 1},
              "encoding": {"y": {"field": "tr", "type": "quantitative", "axis": null}}
            },
            {
              "mark": {"type": "rule", "color": "black", "strokeWidth": 1.2},
              "encoding": {"y": {"field": "tr", "type": "quantitative", "axis": null}, "y2": {"field": "tr_hi"}}
            },
            {
              "mark": {"type": "tick", "color": "black", "thickness": 1.2, "size": 7},
              "encoding": {"y": {"field": "tr_hi", "type": "quantitative", "axis": null}}
            },
            {
              "transform": [{"filter": "datum.tr_note === '*'"}],
              "mark": {"type": "text", "fontSize": 20, "fontWeight": "bold", "baseline": "alphabetic", "dy": 3.5, "color": "black"},
              "encoding": {"y": {"field": "tr_hi", "type": "quantitative", "axis": null}, "text": {"field": "tr_note"}}
            },
            {
              "transform": [{"filter": "datum.tr_note !== '*' && datum.tr_note !== ''"}],
              "mark": {"type": "text", "fontSize": 12, "baseline": "alphabetic", "dy": -8, "color": "black"},
              "encoding": {"y": {"field": "tr_hi", "type": "quantitative", "axis": null}, "text": {"field": "tr_note"}}
            }
          ]
        }
      ]
    }
  ]
}
